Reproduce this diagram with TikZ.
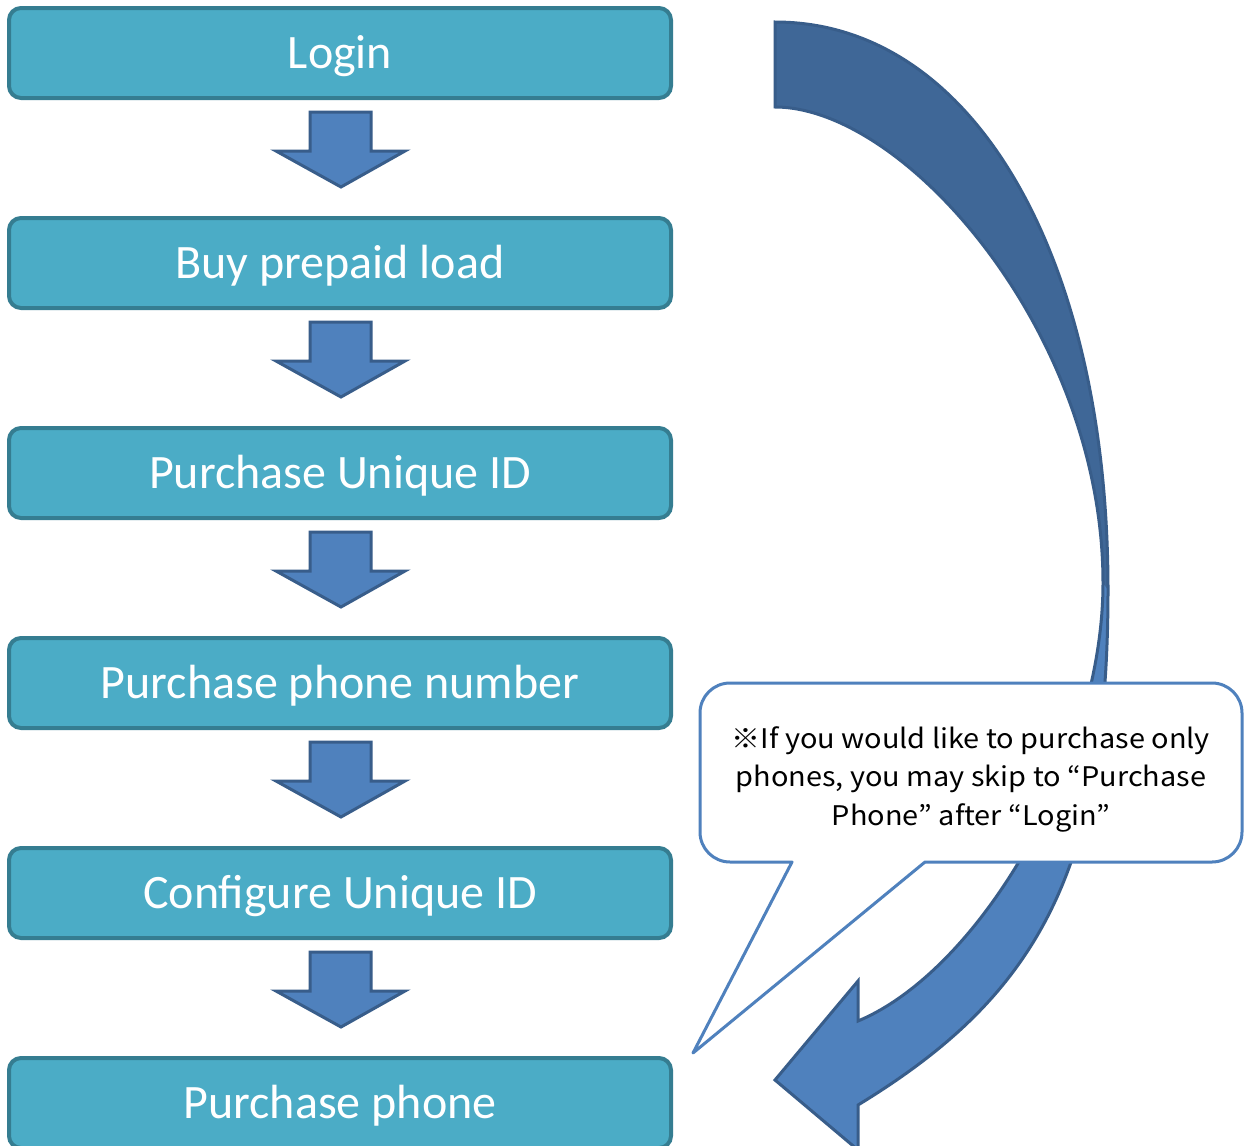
\documentclass[tikz,border=0pt]{standalone}
\usepackage{fontspec}
\setmainfont{Carlito}
\newfontfamily\cjkjp[FakeStretch=1.07]{Noto Sans CJK JP}
\usetikzlibrary{calc}
\definecolor{boxfill}{HTML}{4BACC6}
\definecolor{boxline}{HTML}{357D91}
\definecolor{arrfill}{HTML}{4F81BD}
\definecolor{arrdark}{HTML}{3F6797}
\definecolor{arrline}{HTML}{385D8A}
\begin{document}
\begin{tikzpicture}[x=1pt,y=-1pt,
  stepbox/.style={draw=boxline,fill=boxfill,line width=4pt,rounded corners=12pt,
    minimum width=662pt,minimum height=90pt,inner sep=0pt,
    text height=31pt,text depth=0pt,
    text=white,font=\fontsize{48}{56}\selectfont},
  blk/.style={draw=arrline,fill=arrfill,line width=3pt,line join=miter},
  curv/.style={draw=arrline,line width=3pt,line join=miter},
  callout/.style={draw=arrfill,fill=white,line width=3pt,line join=round}]
\clip (0,0) rectangle (1248,1146);
\fill[white] (0,0) rectangle (1248,1146);

\node[stepbox] (b1) at (340,53) {Login};
\node[stepbox] (b2) at (340,263) {Buy prepaid load};
\node[stepbox] (b3) at (340,473) {Purchase Unique ID};
\node[stepbox] (b4) at (340,683) {Purchase phone number};
\node[stepbox] (b5) at (340,893) {Configure Unique ID};
\node[stepbox] (b6) at (340,1103) {Purchase phone};

\foreach \a/\b in {b1/b2,b2/b3,b3/b4,b4/b5,b5/b6}{
  \draw[blk] ($(\a.south)+(-30,12)$) -- ++(61,0) -- ++(0,39) -- ++(34,0)
    -- ($(\b.north)+(1,-29)$) -- ($(\a.south)+(-64,51)$) -- ++(34,0) -- cycle;
}

% curved arrow
\coordinate (os) at (775,22);
\coordinate (is) at (775,107);
\coordinate (om) at (1108,590);
\coordinate (im) at (1103,583);
\coordinate (oe) at (858,1105);
\coordinate (ie) at (858,1021);
\coordinate (bt) at (858,981);
\coordinate (bb) at (858,1150);
\coordinate (tip) at (775,1080);
\def\curvedpath{(os) .. controls (975,22) and (1108,260) .. (om)
  .. controls (1108,880) and (1030,1000) .. (oe) -- (bb) -- (tip) -- (bt) -- (ie)
  .. controls (980,970) and (1103,760) .. (im)
  .. controls (1103,333) and (905,107) .. (is) -- cycle}
\fill[arrfill] \curvedpath;
\fill[arrdark] (os) .. controls (975,22) and (1108,260) .. (om)
  -- (im) .. controls (1103,333) and (905,107) .. (is) -- cycle;
\draw[curv] \curvedpath;

% callout
\draw[callout] (925,862) -- (960,862) [rounded corners=30pt] -- (1242,862) -- (1242,683)
  -- (700,683) -- (700,862) -- (760,862) [sharp corners] -- (792,862) -- (693,1053) -- cycle;
\node[align=center,font=\cjkjp\fontsize{27}{38.5}\selectfont,inner sep=0pt] (note) at (971,779)
  {※If you would like to purchase only\\phones, you may skip to “Purchase\\Phone” after “Login”};
\end{tikzpicture}
\end{document}
